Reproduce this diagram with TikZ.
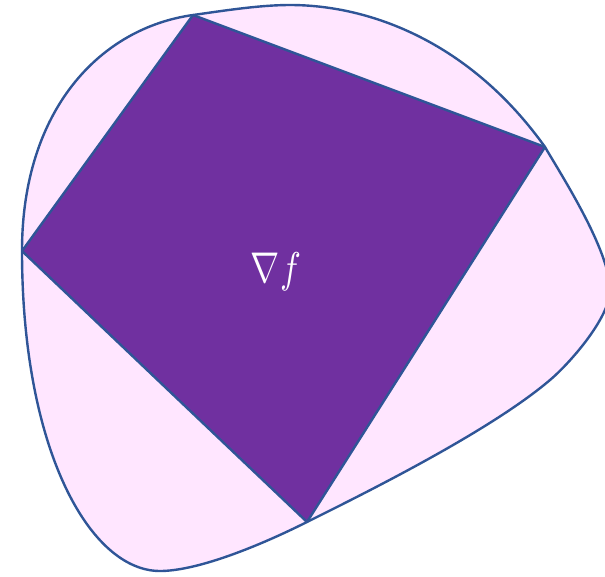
\documentclass[tikz,border=0pt]{standalone}
\usepackage{graphicx}
\definecolor{blobfill}{HTML}{FFE6FF}
\definecolor{edgeblue}{HTML}{2F5597}
\definecolor{quadfill}{HTML}{7030A0}
\begin{document}
\begin{tikzpicture}[x=1pt,y=-1pt,
  blob/.style={fill=blobfill,draw=edgeblue,line width=2.4pt},
  quadstyle/.style={fill=quadfill,draw=edgeblue,line width=2.4pt,line join=round},
  gradlabel/.style={text=white,inner sep=0pt}]
\useasboundingbox (0,0) rectangle (605,576);
\clip (0,0) rectangle (605,576);
\coordinate (A) at (193,15);
\coordinate (B) at (545,147);
\coordinate (C) at (307,522);
\coordinate (D) at (22,251);
\coordinate (T) at (290,5);
\coordinate (R) at (610,290);
\coordinate (F) at (550,380);
\coordinate (Bot) at (160,571);
\draw[blob] (D) .. controls (22,110) and (100,28) .. (A)
  .. controls (225,10.5) and (260,5) .. (T)
  .. controls (370,5) and (470,42) .. (B)
  .. controls (560,173) and (610,250) .. (R)
  .. controls (610,318) and (569,364) .. (F)
  .. controls (489,432) and (361,495) .. (C)
  .. controls (253,549) and (195,571) .. (Bot)
  .. controls (90,571) and (22,450) .. (D) -- cycle;
\draw[quadstyle] (A) -- (B) -- (C) -- (D) -- cycle;
\node[gradlabel] (grad) at (276,272) {\scalebox{3.5}[4.3]{$\nabla f$}};
\end{tikzpicture}
\end{document}
